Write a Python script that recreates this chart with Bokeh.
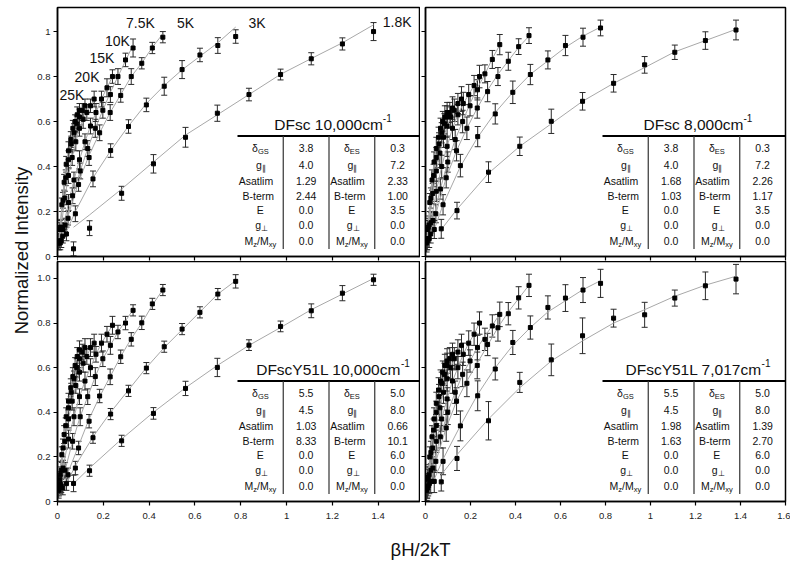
import math
from bokeh.plotting import figure
from bokeh.models import Range1d, FixedTicker, ColumnDataSource, Whisker, TeeHead, Label
from bokeh.layouts import row, column
from bokeh.embed import file_html
from bokeh.resources import INLINE
from bokeh.core.properties import value

FONT = "Liberation Sans"

# ---------------- data ----------------
X_TICKS = [0, 0.2, 0.4, 0.6, 0.8, 1.0, 1.2, 1.4, 1.6]
X_TICK_LABELS = ["0", "0.2", "0.4", "0.6", "0.8", "1", "1.2", "1.4", "1.6"]
Y_TICKS = [0, 0.2, 0.4, 0.6, 0.8, 1.0]
Y_TICK_LABELS_TOP = ["0", "0.2", "0.4", "0.6", "0.8", "1"]
Y_TICK_LABELS_BOTTOM = ["0", "0.2", "0.4", "0.6", "0.8", "1.0"]

TEMPS = ["1.8K", "3K", "5K", "7.5K", "10K", "15K", "20K", "25K"]

X_18 = [0.070, 0.140, 0.280, 0.419, 0.559, 0.698, 0.836, 0.974, 1.108, 1.244, 1.380]
X_3 = [0.039, 0.078, 0.155, 0.232, 0.310, 0.388, 0.466, 0.544, 0.622, 0.700, 0.778]
X_5 = [0.023, 0.046, 0.092, 0.138, 0.184, 0.230, 0.276, 0.322, 0.368, 0.414, 0.460]
X_75 = [0.0165, 0.033, 0.066, 0.099, 0.132, 0.165, 0.198, 0.231, 0.264, 0.297, 0.330]
X_10 = [0.012, 0.024, 0.048, 0.072, 0.096, 0.120, 0.144, 0.168, 0.192, 0.216, 0.240]
X_15 = [0.008, 0.016, 0.032, 0.048, 0.064, 0.080, 0.096, 0.112, 0.128, 0.144, 0.160]
X_20 = [0.006, 0.012, 0.024, 0.036, 0.048, 0.060, 0.072, 0.084, 0.096, 0.108, 0.120]
X_25 = [0.005, 0.010, 0.019, 0.029, 0.038, 0.048, 0.058, 0.067, 0.077, 0.086, 0.096]

# --- DFsc 10,000 cm-1 (top left)
TL_Y18 = [0.034, 0.126, 0.281, 0.412, 0.530, 0.637, 0.720, 0.809, 0.879, 0.945, 1.000]
TL_E18 = [0.031, 0.033, 0.031, 0.041, 0.044, 0.036, 0.028, 0.024, 0.027, 0.027, 0.040]
TL_F18 = [0.130, 0.185, 0.300, 0.420, 0.540, 0.630, 0.720, 0.810, 0.880, 0.950, 1.030]
TL_Y3 = [0.100, 0.190, 0.345, 0.471, 0.578, 0.674, 0.757, 0.831, 0.896, 0.938, 0.978]
TL_E3 = [0.030, 0.035, 0.035, 0.030, 0.030, 0.030, 0.040, 0.040, 0.030, 0.035, 0.030]
TL_F3 = [0.110, 0.200, 0.350, 0.470, 0.580, 0.680, 0.760, 0.830, 0.890, 0.950, 1.020]
TL_Y5 = [0.090, 0.170, 0.320, 0.440, 0.550, 0.640, 0.716, 0.800, 0.859, 0.927, 0.975]
TL_E5 = [0.030, 0.030, 0.030, 0.035, 0.035, 0.035, 0.030, 0.035, 0.025, 0.025, 0.025]
TL_F5 = [0.090, 0.180, 0.330, 0.450, 0.550, 0.640, 0.720, 0.800, 0.860, 0.930, 0.990]
TL_Y75 = [0.070, 0.140, 0.270, 0.380, 0.480, 0.570, 0.650, 0.720, 0.800, 0.874, 0.927]
TL_E75 = [0.030, 0.030, 0.035, 0.035, 0.035, 0.040, 0.035, 0.035, 0.035, 0.030, 0.040]
TL_F75 = [0.070, 0.140, 0.270, 0.380, 0.480, 0.570, 0.650, 0.730, 0.800, 0.870, 0.940]
TL_Y10 = [0.060, 0.120, 0.240, 0.340, 0.430, 0.510, 0.580, 0.640, 0.700, 0.750, 0.800]
TL_E10 = [0.030, 0.030, 0.035, 0.035, 0.040, 0.035, 0.035, 0.040, 0.035, 0.040, 0.030]
TL_Y15 = [0.070, 0.130, 0.260, 0.360, 0.440, 0.510, 0.570, 0.610, 0.640, 0.670, 0.700]
TL_E15 = [0.030, 0.035, 0.030, 0.035, 0.035, 0.040, 0.035, 0.040, 0.035, 0.030, 0.035]
TL_Y20 = [0.060, 0.130, 0.250, 0.350, 0.430, 0.500, 0.550, 0.590, 0.620, 0.650, 0.670]
TL_E20 = [0.030, 0.030, 0.035, 0.035, 0.040, 0.035, 0.040, 0.035, 0.035, 0.030, 0.030]
TL_Y25 = [0.060, 0.120, 0.230, 0.330, 0.410, 0.470, 0.520, 0.570, 0.600, 0.630, 0.650]
TL_E25 = [0.030, 0.030, 0.030, 0.035, 0.035, 0.040, 0.035, 0.035, 0.030, 0.035, 0.030]

# --- DFsc 8,000 cm-1 (top right)
TR_Y18 = [0.123, 0.204, 0.375, 0.490, 0.601, 0.690, 0.770, 0.852, 0.908, 0.960, 1.007]
TR_E18 = [0.042, 0.037, 0.046, 0.041, 0.054, 0.039, 0.039, 0.037, 0.032, 0.039, 0.044]
TR_F18 = [0.120, 0.210, 0.370, 0.490, 0.590, 0.690, 0.770, 0.840, 0.910, 0.960, 1.010]
TR_Y3 = [0.120, 0.230, 0.404, 0.533, 0.634, 0.730, 0.809, 0.874, 0.938, 0.975, 1.016]
TR_E3 = [0.040, 0.045, 0.050, 0.045, 0.045, 0.050, 0.045, 0.040, 0.045, 0.040, 0.035]
TR_F3 = [0.120, 0.230, 0.400, 0.530, 0.640, 0.730, 0.810, 0.870, 0.930, 0.980, 1.020]
TR_Y5 = [0.100, 0.190, 0.350, 0.470, 0.570, 0.660, 0.733, 0.800, 0.868, 0.933, 0.982]
TR_E5 = [0.040, 0.040, 0.045, 0.045, 0.050, 0.045, 0.045, 0.040, 0.040, 0.035, 0.035]
TR_F5 = [0.100, 0.190, 0.350, 0.470, 0.570, 0.660, 0.740, 0.810, 0.870, 0.930, 0.980]
TR_Y75 = [0.080, 0.160, 0.300, 0.420, 0.520, 0.600, 0.670, 0.741, 0.812, 0.876, 0.942]
TR_E75 = [0.040, 0.040, 0.045, 0.045, 0.045, 0.050, 0.045, 0.045, 0.040, 0.040, 0.045]
TR_F75 = [0.080, 0.160, 0.300, 0.420, 0.520, 0.600, 0.680, 0.750, 0.810, 0.880, 0.940]
TR_Y10 = [0.080, 0.150, 0.290, 0.400, 0.490, 0.570, 0.630, 0.680, 0.720, 0.760, 0.800]
TR_E10 = [0.040, 0.045, 0.045, 0.050, 0.045, 0.050, 0.045, 0.050, 0.045, 0.045, 0.050]
TR_Y15 = [0.070, 0.140, 0.280, 0.380, 0.460, 0.530, 0.580, 0.620, 0.650, 0.680, 0.700]
TR_E15 = [0.040, 0.040, 0.045, 0.045, 0.050, 0.045, 0.050, 0.045, 0.050, 0.045, 0.055]
TR_Y20 = [0.070, 0.130, 0.260, 0.360, 0.440, 0.500, 0.550, 0.590, 0.620, 0.640, 0.660]
TR_E20 = [0.040, 0.040, 0.045, 0.050, 0.045, 0.050, 0.045, 0.045, 0.050, 0.045, 0.050]
TR_Y25 = [0.060, 0.120, 0.240, 0.340, 0.420, 0.480, 0.530, 0.570, 0.600, 0.620, 0.640]
TR_E25 = [0.040, 0.040, 0.040, 0.045, 0.045, 0.050, 0.045, 0.045, 0.045, 0.050, 0.045]

# --- DFscY51L 10,000 cm-1 (bottom left)
BL_Y18 = [0.081, 0.138, 0.272, 0.395, 0.507, 0.601, 0.701, 0.785, 0.855, 0.934, 0.994]
BL_E18 = [0.037, 0.025, 0.025, 0.026, 0.032, 0.041, 0.024, 0.024, 0.031, 0.034, 0.025]
BL_F18 = [0.080, 0.150, 0.280, 0.400, 0.510, 0.610, 0.700, 0.780, 0.860, 0.930, 1.000]
BL_Y3 = [0.080, 0.150, 0.286, 0.392, 0.496, 0.598, 0.694, 0.773, 0.848, 0.930, 0.987]
BL_E3 = [0.030, 0.030, 0.025, 0.025, 0.025, 0.025, 0.025, 0.025, 0.025, 0.025, 0.030]
BL_F3 = [0.080, 0.160, 0.290, 0.400, 0.500, 0.600, 0.690, 0.770, 0.850, 0.930, 0.990]
BL_Y5 = [0.060, 0.120, 0.240, 0.360, 0.473, 0.559, 0.649, 0.727, 0.801, 0.886, 0.948]
BL_E5 = [0.030, 0.030, 0.030, 0.030, 0.030, 0.035, 0.030, 0.030, 0.030, 0.025, 0.025]
BL_F5 = [0.060, 0.130, 0.250, 0.370, 0.470, 0.560, 0.650, 0.730, 0.800, 0.880, 0.950]
BL_Y75 = [0.070, 0.140, 0.270, 0.380, 0.470, 0.560, 0.640, 0.700, 0.760, 0.800, 0.857]
BL_E75 = [0.030, 0.035, 0.035, 0.040, 0.035, 0.040, 0.035, 0.040, 0.030, 0.030, 0.025]
BL_F75 = [0.070, 0.140, 0.270, 0.380, 0.470, 0.560, 0.640, 0.700, 0.760, 0.810, 0.860]
BL_Y10 = [0.080, 0.150, 0.280, 0.380, 0.470, 0.540, 0.600, 0.660, 0.710, 0.750, 0.790]
BL_E10 = [0.035, 0.035, 0.040, 0.040, 0.035, 0.040, 0.040, 0.035, 0.040, 0.035, 0.040]
BL_Y15 = [0.070, 0.140, 0.270, 0.370, 0.450, 0.520, 0.580, 0.620, 0.650, 0.690, 0.710]
BL_E15 = [0.035, 0.040, 0.035, 0.040, 0.040, 0.035, 0.040, 0.040, 0.035, 0.040, 0.040]
BL_Y20 = [0.060, 0.120, 0.240, 0.340, 0.420, 0.490, 0.550, 0.600, 0.640, 0.670, 0.690]
BL_E20 = [0.035, 0.035, 0.040, 0.035, 0.040, 0.040, 0.035, 0.040, 0.040, 0.035, 0.040]
BL_Y25 = [0.050, 0.100, 0.210, 0.300, 0.380, 0.450, 0.510, 0.560, 0.610, 0.650, 0.680]
BL_E25 = [0.035, 0.035, 0.035, 0.040, 0.040, 0.035, 0.040, 0.040, 0.035, 0.040, 0.040]

# --- DFscY51L 7,017 cm-1 (bottom right)
BR_Y18 = [0.088, 0.193, 0.362, 0.534, 0.635, 0.743, 0.822, 0.837, 0.912, 0.967, 0.997]
BR_E18 = [0.041, 0.054, 0.086, 0.045, 0.071, 0.080, 0.040, 0.056, 0.036, 0.062, 0.066]
BR_F18 = [0.120, 0.210, 0.370, 0.510, 0.630, 0.720, 0.800, 0.860, 0.920, 0.970, 1.010]
BR_Y3 = [0.090, 0.180, 0.339, 0.474, 0.594, 0.713, 0.780, 0.870, 0.912, 0.948, 0.978]
BR_E3 = [0.050, 0.060, 0.067, 0.067, 0.049, 0.054, 0.052, 0.052, 0.060, 0.056, 0.063]
BR_F3 = [0.100, 0.190, 0.340, 0.480, 0.600, 0.700, 0.780, 0.850, 0.900, 0.950, 0.990]
BR_Y5 = [0.090, 0.180, 0.330, 0.450, 0.530, 0.610, 0.704, 0.779, 0.842, 0.913, 0.969]
BR_E5 = [0.050, 0.050, 0.060, 0.060, 0.060, 0.060, 0.050, 0.060, 0.050, 0.050, 0.050]
BR_F5 = [0.090, 0.180, 0.330, 0.450, 0.540, 0.620, 0.700, 0.780, 0.850, 0.910, 0.970]
BR_Y75 = [0.080, 0.150, 0.290, 0.400, 0.490, 0.570, 0.630, 0.690, 0.727, 0.787, 0.839]
BR_E75 = [0.045, 0.050, 0.050, 0.055, 0.050, 0.055, 0.050, 0.055, 0.050, 0.050, 0.055]
BR_F75 = [0.080, 0.150, 0.290, 0.400, 0.490, 0.570, 0.630, 0.690, 0.740, 0.790, 0.840]
BR_Y10 = [0.070, 0.140, 0.270, 0.370, 0.460, 0.540, 0.600, 0.660, 0.710, 0.750, 0.800]
BR_E10 = [0.045, 0.050, 0.050, 0.055, 0.050, 0.055, 0.050, 0.050, 0.055, 0.050, 0.050]
BR_Y15 = [0.060, 0.120, 0.240, 0.340, 0.420, 0.490, 0.550, 0.600, 0.640, 0.670, 0.700]
BR_E15 = [0.045, 0.045, 0.050, 0.050, 0.055, 0.050, 0.055, 0.050, 0.050, 0.055, 0.050]
BR_Y20 = [0.060, 0.110, 0.220, 0.320, 0.400, 0.470, 0.530, 0.570, 0.610, 0.640, 0.660]
BR_E20 = [0.045, 0.045, 0.050, 0.050, 0.050, 0.055, 0.050, 0.050, 0.055, 0.050, 0.050]
BR_Y25 = [0.050, 0.100, 0.200, 0.290, 0.370, 0.440, 0.500, 0.540, 0.580, 0.610, 0.630]
BR_E25 = [0.045, 0.045, 0.045, 0.050, 0.050, 0.050, 0.055, 0.050, 0.050, 0.050, 0.055]

# --- parameter tables
ROW_LABELS_A = ["δGS", "g∥", "Asatlim", "B-term", "E", "g⊥", "Mz/Mxy"]
ROW_LABELS_B = ["δES", "g∥", "Asatlim", "B-term", "E", "g⊥", "Mz/Mxy"]
TL_TITLE = "DFsc 10,000cm"
TL_COL_A = ["3.8", "4.0", "1.29", "2.44", "0.0", "0.0", "0.0"]
TL_COL_B = ["0.3", "7.2", "2.33", "1.00", "3.5", "0.0", "0.0"]
TR_TITLE = "DFsc 8,000cm"
TR_COL_A = ["3.8", "4.0", "1.68", "1.03", "0.0", "0.0", "0.0"]
TR_COL_B = ["0.3", "7.2", "2.26", "1.17", "3.5", "0.0", "0.0"]
BL_TITLE = "DFscY51L 10,000cm"
BL_COL_A = ["5.5", "4.5", "1.03", "8.33", "0.0", "0.0", "0.0"]
BL_COL_B = ["5.0", "8.0", "0.66", "10.1", "6.0", "0.0", "0.0"]
BR_TITLE = "DFscY51L 7,017cm"
BR_COL_A = ["5.5", "4.5", "1.98", "1.63", "0.0", "0.0", "0.0"]
BR_COL_B = ["5.0", "8.0", "1.39", "2.70", "6.0", "0.0", "0.0"]
TITLE_SUP = "-1"

# temperature labels in the first panel (data-space anchors)
K_LABEL_X = [1.483, 0.871, 0.559, 0.362, 0.262, 0.194, 0.129, 0.063]
K_LABEL_Y = [1.044, 1.040, 1.040, 1.040, 0.958, 0.882, 0.800, 0.720]

# ---------------- layout constants ----------------
TABLE_W = 183.0
COL_W = TABLE_W / 4
LINE_ABOVE_AXIS = 120.5
SEP_LEN = 113.0
ROW_OFFSETS = [12, 28.5, 45, 59.5, 73.5, 88.5, 104.5]
MAIN_PX = 10.5
SUB_PX = 7.5

PIECES = {
    "δGS": [("δ", 0), ("GS", 1)],
    "δES": [("δ", 0), ("ES", 1)],
    "g∥": [("g", 0), ("∥", 1)],
    "g⊥": [("g", 0), ("⊥", 1)],
    "Mz/Mxy": [("M", 0), ("z", 1), ("/M", 0), ("xy", 1)],
}

ADV = {'D': .722, 'F': .611, 's': .5, 'c': .5, ' ': .278, ',': .278, 'm': .833, 'Y': .667,
       'L': .556, '-': .333, 'δ': .556, 'G': .778, 'S': .667, 'E': .667, 'g': .556, '∥': .40,
       '⊥': .584, 'M': .833, 'z': .5, '/': .278, 'x': .5, 'y': .5, '1': .556}


def tw(s, size):
    return sum(ADV.get(ch, .556) for ch in s) * size


def style_axis(ax, ticks, labels):
    ax.ticker = FixedTicker(ticks=ticks)
    ax.minor_tick_line_color = None
    ax.major_tick_out = 4
    ax.major_tick_in = 0
    ax.axis_line_color = "black"
    ax.axis_line_width = 1.5
    ax.major_tick_line_color = "black"
    ax.major_tick_line_width = 1.2
    ax.major_label_text_font = FONT
    if labels is None:
        # ticks only, no tick labels (as in the reference)
        ax.major_label_overrides = {t: "" for t in ticks}
        ax.major_label_text_font_size = "1px"
        ax.major_label_standoff = 0
    else:
        ax.major_label_overrides = {t: l for t, l in zip(ticks, labels)}
        ax.major_label_text_font_size = "9.5px"
        ax.major_label_text_color = "#222"


def make_panel(fw, fh, borders, xr, yr, xlabels, ylabels):
    bl, br, bt, bb = borders
    p = figure(width=bl + fw + br, height=bt + fh + bb,
               x_range=Range1d(*xr), y_range=Range1d(*yr),
               output_backend="svg", toolbar_location=None,
               min_border_left=bl, min_border_right=br,
               min_border_top=bt, min_border_bottom=bb)
    p.grid.visible = False
    p.outline_line_color = "black"
    p.outline_line_width = 1.5
    p.background_fill_color = "white"
    p.border_fill_color = "white"
    style_axis(p.xaxis[0], X_TICKS, xlabels)
    style_axis(p.yaxis[0], Y_TICKS, ylabels)
    return p


def draw_series(p, series):
    for xs, ys, es, fs in series:
        p.line(xs, fs if fs is not None else ys, line_color="#a8a8a8", line_width=1)
    for xs, ys, es, fs in series:
        src = ColumnDataSource(dict(x=xs, lo=[y - e for y, e in zip(ys, es)],
                                    up=[y + e for y, e in zip(ys, es)]))
        w = Whisker(source=src, base="x", lower="lo", upper="up", dimension="height",
                    line_color="#2a2a2a", line_width=1,
                    upper_head=TeeHead(size=6, line_color="#2a2a2a", line_width=1),
                    lower_head=TeeHead(size=6, line_color="#2a2a2a", line_width=1))
        p.add_layout(w)
    for xs, ys, es, fs in series:
        p.scatter(xs, ys, marker="square", size=4, color="black")


def draw_pieces(p, cx, cy, label):
    pieces = PIECES.get(label, [(label, 0)])
    total = sum(tw(t, SUB_PX if s else MAIN_PX) for t, s in pieces)
    off = -total / 2
    for t, s in pieces:
        size = SUB_PX if s else MAIN_PX
        p.text(x=[cx], y=[cy], text=[t], x_offset=off, y_offset=3.5 if s else 0,
               text_font=value(FONT), text_font_size=value(f"{size}px"),
               text_align="left", text_baseline="middle", text_color="#111")
        off += tw(t, size)


def draw_table(p, fw, fh, xr, yr, title, col_a, col_b):
    sx = (xr[1] - xr[0]) / fw
    sy = (yr[1] - yr[0]) / fh
    right = xr[1]
    left = right - TABLE_W * sx
    yline = yr[0] + LINE_ABOVE_AXIS * sy
    p.segment(x0=[left], y0=[yline], x1=[right], y1=[yline], line_color="black", line_width=2)
    seps = [left + COL_W * k * sx for k in (1, 2, 3)]
    p.segment(x0=seps, y0=[yline] * 3, x1=seps, y1=[yline - SEP_LEN * sy] * 3,
              line_color="#333", line_width=1.2)
    centers = [left + (COL_W * k + COL_W / 2) * sx for k in range(4)]
    rows_y = [yline - o * sy for o in ROW_OFFSETS]
    p.text(x=[centers[1]] * 7 + [centers[3]] * 7, y=rows_y + rows_y, text=col_a + col_b,
           text_font=value(FONT), text_font_size=value(f"{MAIN_PX}px"),
           text_align="center", text_baseline="middle", text_color="#111")
    for lab_a, lab_b, ry in zip(ROW_LABELS_A, ROW_LABELS_B, rows_y):
        draw_pieces(p, centers[0], ry, lab_a)
        draw_pieces(p, centers[2], ry, lab_b)
    tsize, ssize = 15.5, 10
    total = tw(title, tsize) + tw(TITLE_SUP, ssize)
    tx = left + (TABLE_W / 2 + 4) * sx
    ty = yline + 12 * sy
    p.text(x=[tx], y=[ty], text=[title], x_offset=-total / 2, text_font=value(FONT),
           text_font_size=value(f"{tsize}px"), text_align="left", text_baseline="middle",
           text_color="#111")
    p.text(x=[tx], y=[ty], text=[TITLE_SUP], x_offset=-total / 2 + tw(title, tsize), y_offset=-6,
           text_font=value(FONT), text_font_size=value(f"{ssize}px"), text_align="left",
           text_baseline="middle", text_color="#111")


def series_for(ys18, es18, fs18, ys3, es3, fs3, ys5, es5, fs5, ys75, es75, fs75,
               ys10, es10, ys15, es15, ys20, es20, ys25, es25):
    return [(X_18, ys18, es18, fs18), (X_3, ys3, es3, fs3), (X_5, ys5, es5, fs5),
            (X_75, ys75, es75, fs75), (X_10, ys10, es10, None), (X_15, ys15, es15, None),
            (X_20, ys20, es20, None), (X_25, ys25, es25, None)]


# ---------------- panels ----------------
LW, RW = 363, 360
TH, BH = 249, 240
XR_L = (0.0, 1.585)
XR_R = (0.0, 1.6)
YR_T = (0.0, 1.107)
YR_B = (0.0, 1.076)
TOP_PAD = 7

tl = make_panel(LW, TH, (23, 0, TOP_PAD, 5), XR_L, YR_T, None, Y_TICK_LABELS_TOP)
tr = make_panel(RW, TH, (5, 5, TOP_PAD, 5), XR_R, YR_T, None, None)
bl = make_panel(LW, BH, (23, 0, 0, 24), XR_L, YR_B, X_TICK_LABELS, Y_TICK_LABELS_BOTTOM)
br = make_panel(RW, BH, (5, 5, 0, 24), XR_R, YR_B, X_TICK_LABELS, None)
for p in (bl, br):
    p.xaxis[0].major_label_standoff = 7
for p in (tl, bl):
    p.yaxis[0].major_label_standoff = 3

draw_series(tl, series_for(TL_Y18, TL_E18, TL_F18, TL_Y3, TL_E3, TL_F3, TL_Y5, TL_E5, TL_F5,
                           TL_Y75, TL_E75, TL_F75, TL_Y10, TL_E10, TL_Y15, TL_E15,
                           TL_Y20, TL_E20, TL_Y25, TL_E25))
draw_series(tr, series_for(TR_Y18, TR_E18, TR_F18, TR_Y3, TR_E3, TR_F3, TR_Y5, TR_E5, TR_F5,
                           TR_Y75, TR_E75, TR_F75, TR_Y10, TR_E10, TR_Y15, TR_E15,
                           TR_Y20, TR_E20, TR_Y25, TR_E25))
draw_series(bl, series_for(BL_Y18, BL_E18, BL_F18, BL_Y3, BL_E3, BL_F3, BL_Y5, BL_E5, BL_F5,
                           BL_Y75, BL_E75, BL_F75, BL_Y10, BL_E10, BL_Y15, BL_E15,
                           BL_Y20, BL_E20, BL_Y25, BL_E25))
draw_series(br, series_for(BR_Y18, BR_E18, BR_F18, BR_Y3, BR_E3, BR_F3, BR_Y5, BR_E5, BR_F5,
                           BR_Y75, BR_E75, BR_F75, BR_Y10, BR_E10, BR_Y15, BR_E15,
                           BR_Y20, BR_E20, BR_Y25, BR_E25))

draw_table(tl, LW, TH, XR_L, YR_T, TL_TITLE, TL_COL_A, TL_COL_B)
draw_table(tr, RW, TH, XR_R, YR_T, TR_TITLE, TR_COL_A, TR_COL_B)
draw_table(bl, LW, BH, XR_L, YR_B, BL_TITLE, BL_COL_A, BL_COL_B)
draw_table(br, RW, BH, XR_R, YR_B, BR_TITLE, BR_COL_A, BR_COL_B)

tl.text(x=K_LABEL_X, y=K_LABEL_Y, text=TEMPS, text_font=value(FONT),
        text_font_size=value("14px"), text_align="center", text_baseline="middle",
        text_color="#111")


def text_fig(w, h):
    f = figure(width=w, height=h, x_range=Range1d(0, w), y_range=Range1d(0, h),
               output_backend="svg", toolbar_location=None, x_axis_type=None, y_axis_type=None,
               min_border_left=0, min_border_right=0, min_border_top=0, min_border_bottom=0)
    f.grid.visible = False
    f.outline_line_color = None
    return f


top_h = TOP_PAD + TH + 5
bot_h = 0 + BH + 24
xlab_h = 36
right_w = (23 + LW + 0) + (5 + RW + 5)
left_w = 34

xlab = text_fig(right_w, xlab_h)
xlab.add_layout(Label(x=420 - left_w, y=12, text="βH/2kT", text_font=FONT,
                      text_font_size="18.5px", text_align="center", text_baseline="middle",
                      text_color="#111"))

total_h = top_h + bot_h + xlab_h
ylab = text_fig(left_w, total_h)
ylab.add_layout(Label(x=21, y=total_h - 250, text="Normalized Intensity",
                      angle=math.pi / 2, text_font=FONT, text_font_size="18.5px",
                      text_align="center", text_baseline="middle", text_color="#111"))

layout = row(ylab, column(row(tl, tr), row(bl, br), xlab))

open("out.html", "w").write(file_html(layout, INLINE))
